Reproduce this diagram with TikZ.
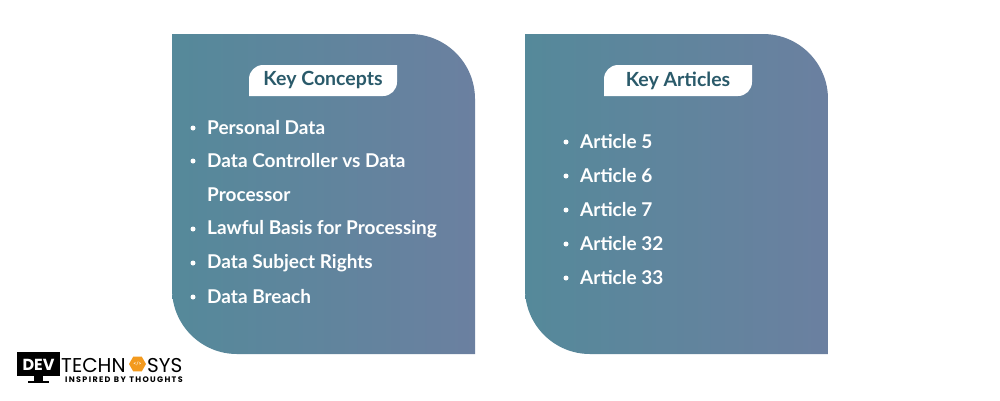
\documentclass[tikz,border=0pt]{standalone}
\usepackage{fontspec}
\setmainfont{Lato}
\newfontfamily\pop{Poppins}
\usetikzlibrary{shapes.geometric}
\definecolor{cl}{HTML}{55899A}
\definecolor{cr}{HTML}{6B80A0}
\definecolor{lab}{HTML}{2A5A6A}
\definecolor{org}{HTML}{F39A1E}
\tikzset{
 item/.style={anchor=west,text=white,font=\bfseries\fontsize{19}{21}\selectfont,inner sep=0},
 ttl/.style={text=lab,font=\bfseries\fontsize{19.5}{21}\selectfont},
 dot/.style={circle,fill=white,inner sep=0,minimum size=5pt}
}
\begin{document}
\begin{tikzpicture}[x=1pt,y=-1pt]
\useasboundingbox (0,0) rectangle (1000,400);
\fill[white] (0,0) rectangle (1000,400);
% panels
\foreach \x in {172,525}{
 \shade[left color=cl,right color=cr] (\x,34) -- (\x+238,34) arc[start angle=-90,end angle=0,radius=65] -- (\x+303,354) -- (\x+65,354) arc[start angle=90,end angle=180,radius=65] -- cycle;
}
% labels
\foreach \x/\t/\n in {249/Key Concepts/a,604/Key Articles/b}{
 \fill[white] (\x,96) -- (\x,79) arc[start angle=180,end angle=270,radius=14] -- (\x+148,65) -- (\x+148,82) arc[start angle=0,end angle=90,radius=14] -- cycle;
 \node[ttl] (t\n) at (\x+74,80.5) {\t};
}
% left items
\foreach \y/\t [count=\i] in {128/Personal Data,161/Data Controller vs Data,195/Processor,229/Lawful Basis for Processing,263/Data Subject Rights,297/Data Breach}{
 \node[item] (l\i) at (207,\y) {\t};
}
\foreach \y in {128,161,229,263,297}{\node[dot] at (193,\y) {};}
% right items
\foreach \y/\t [count=\i] in {142/Article 5,176/Article 6,210/Article 7,244/Article 32,278/Article 33}{
 \node[item] (r\i) at (580,\y) {\t};
 \node[dot] at (566,\y) {};
}
% logo
\fill[black] (17,352) rectangle (60,376);
\fill[black] (34,376) rectangle (43,381);
\fill[black] (28,381) rectangle (49,383);
\node[text=white,font=\pop\bfseries\fontsize{16}{16}\selectfont,inner sep=0] (dev) at (38.5,364.5) {DEV};
\node[font=\pop\fontsize{20}{20}\selectfont,inner sep=0,anchor=west] (tech) at (61,365) {TECHN};
\node[regular polygon,regular polygon sides=6,fill=org,minimum size=17pt,inner sep=0] (hex) at (137.5,364) {};
\node[text=white,font=\bfseries\fontsize{5}{5}\selectfont,inner sep=0] at (hex) {</>};
\node[font=\pop\fontsize{20}{20}\selectfont,inner sep=0,anchor=west] (sys) at (147,365) {SYS};
\node[font=\pop\bfseries\fontsize{8}{8}\selectfont,inner sep=0,anchor=west] (tag) at (65,380) {I\,N\,S\,P\,I\,R\,E\,D\ \ B\,Y\ \ T\,H\,O\,U\,G\,H\,T\,S};
\end{tikzpicture}
\end{document}
